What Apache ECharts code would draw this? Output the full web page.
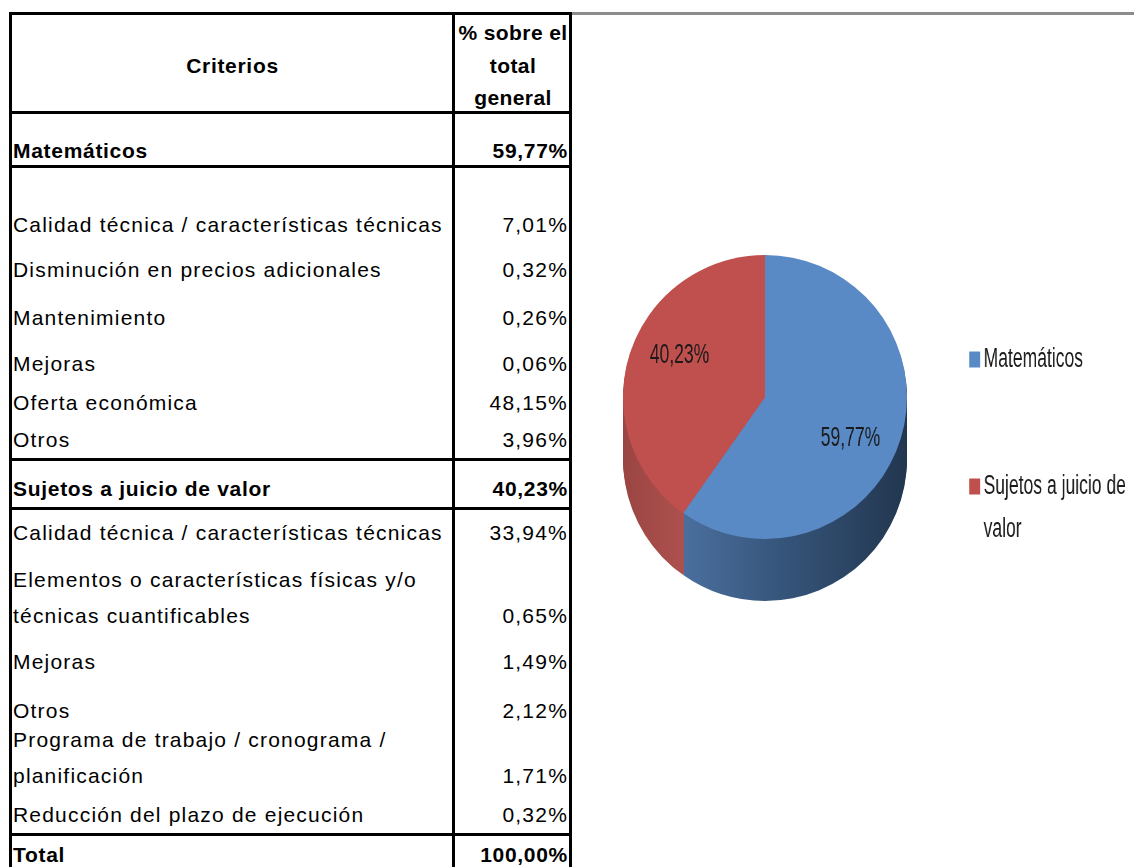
<!DOCTYPE html>
<html>
<head>
<meta charset="utf-8">
<script src="https://cdn.jsdelivr.net/npm/echarts@6/dist/echarts.min.js"></script>
<style>
  html, body { margin: 0; padding: 0; background: #fff; }
  body { width: 1134px; height: 867px; position: relative; overflow: hidden; }
  .t { position: absolute; font-family: "Liberation Sans", Arial, sans-serif; font-size: 21px; color: #000;
       white-space: pre; letter-spacing: 1.2px; line-height: 36px; }
  .b { font-weight: bold; letter-spacing: 0.7px; }
  .r { text-align: right; }
  .c { text-align: center; }
  .ln { position: absolute; background: #000; }
  #frame { position: absolute; left: 572px; top: 12px; width: 562px; height: 3px; background: #8c8c8c; }
  #chart { position: absolute; left: 572px; top: 15px; width: 562px; height: 852px; }
  /* capa de textos del grafico, comprimida en horizontal como en el original */
  #chartText { position: absolute; left: 572px; top: 15px; width: 900px; height: 852px;
               transform: scaleX(0.65); transform-origin: 193px 0; pointer-events: none; }
</style>
</head>
<body>
<div id="frame"></div>
<div id="chart"></div>
<div id="chartText"></div>
<script>
// datos
const grupos = ["Matemáticos", "Sujetos a juicio de valor"];
const pctGrupos = [59.77, 40.23];
const criteriosMat = [
  "Calidad técnica / características técnicas",
  "Disminución en precios adicionales",
  "Mantenimiento",
  "Mejoras",
  "Oferta económica",
  "Otros"
];
const pctMat = [7.01, 0.32, 0.26, 0.06, 48.15, 3.96];
const criteriosSuj = [
  "Calidad técnica / características técnicas",
  "Elementos o características físicas y/o\ntécnicas cuantificables",
  "Mejoras",
  "Otros",
  "Programa de trabajo / cronograma /\nplanificación",
  "Reducción del plazo de ejecución"
];
const pctSuj = [33.94, 0.65, 1.49, 2.12, 1.71, 0.32];
const pctTotal = 100.0;
const cabecera = ["Criterios", "% sobre el\ntotal\ngeneral"];

// layout de la tabla (centro vertical de la ultima linea de cada fila)
const yMat = 151;
const yMatRows = [225, 270, 318, 364, 403, 440];
const ySuj = 489;
const ySujRows = [533, 616, 662, 711, 776, 815];
const yTotal = 855;
const LH = 36;

const fmt = v => v.toFixed(2).replace(".", ",") + "%";

function txt(s, cls, left, width, yLast) {
  const d = document.createElement("div");
  d.className = "t " + cls;
  d.textContent = s;
  const n = s.split("\n").length;
  d.style.left = left + "px";
  d.style.width = width + "px";
  d.style.top = (yLast - LH / 2 - (n - 1) * LH) + "px";
  document.body.appendChild(d);
  return d;
}

function fila(label, valor, y, bold) {
  txt(label, bold ? "b" : "", 13, 440, y);
  txt(fmt(valor), (bold ? "b " : "") + "r", 455, 113, y);
}

function linea(x, y, w, h) {
  const d = document.createElement("div");
  d.className = "ln";
  d.style.left = x + "px";
  d.style.top = y + "px";
  d.style.width = w + "px";
  d.style.height = h + "px";
  document.body.appendChild(d);
}

// cabecera
const h1 = document.createElement("div");
h1.className = "t b c";
h1.textContent = cabecera[0];
h1.style.left = "12px"; h1.style.width = "441px"; h1.style.top = (66 - 18) + "px";
document.body.appendChild(h1);
const h2 = document.createElement("div");
h2.className = "t b c";
h2.textContent = cabecera[1];
h2.style.left = "456px"; h2.style.width = "114px"; h2.style.top = (33 - 16) + "px";
h2.style.lineHeight = "32.5px"; h2.style.letterSpacing = "0.4px";
document.body.appendChild(h2);

fila(grupos[0], pctGrupos[0], yMat, true);
criteriosMat.forEach((c, i) => fila(c, pctMat[i], yMatRows[i], false));
fila(grupos[1], pctGrupos[1], ySuj, true);
criteriosSuj.forEach((c, i) => fila(c, pctSuj[i], ySujRows[i], false));
fila("Total", pctTotal, yTotal, true);

// bordes
[12, 111, 165, 458, 507, 833].forEach(y => linea(9, y, 563, 3));
[9, 452, 569].forEach(x => linea(x, 12, 3, 855));

// grafico circular 3D
const CX = 193, CY = 382, R = 142, DEPTH = 62;
const SX = 0.65; // compresion horizontal de la capa de textos
const topColors = ["#5a8ac6", "#c0504d"];
const sideColors = [
  { type: "linear", global: true, x: 105, y: 0, x2: 336, y2: 0,
    colorStops: [{ offset: 0, color: "#4c71a0" }, { offset: 0.45, color: "#36557b" }, { offset: 1, color: "#22364f" }] },
  { type: "linear", global: true, x: 51, y: 0, x2: 113, y2: 0,
    colorStops: [{ offset: 0, color: "#9a4543" }, { offset: 1, color: "#ae514e" }] }
];
const font = '"Liberation Sans", Arial, sans-serif';

const base = {
  type: "pie",
  radius: R,
  startAngle: 90,
  clockwise: true,
  silent: true,
  animation: false,
  label: { show: false },
  labelLine: { show: false },
  emphasis: { disabled: true }
};

const series = [];
series.push(Object.assign({}, base, {
  name: "top",
  z: 5,
  center: [CX, CY],
  data: grupos.map((g, i) => ({ name: g, value: pctGrupos[i], itemStyle: { color: topColors[i], borderWidth: 0 } }))
}));
for (let k = DEPTH; k >= 1; k -= 2) {
  series.push(Object.assign({}, base, {
    z: 2,
    center: [CX, CY + k],
    data: grupos.map((g, i) => ({ name: g, value: pctGrupos[i], itemStyle: { color: sideColors[i], borderWidth: 0 } }))
  }));
}

const chart = echarts.init(document.getElementById("chart"));
chart.setOption({ backgroundColor: "#fff", series: series });

// etiquetas y leyenda
const legendBase = {
  orient: "vertical",
  left: CX + (966 - 572 - CX) / SX,
  itemWidth: 11 / SX,
  selectedMode: false,
  symbolKeepAspect: false,
  textStyle: { fontFamily: font, fontSize: 27, color: "#1a1a1a", lineHeight: 43 }
};
const chartText = echarts.init(document.getElementById("chartText"));
chartText.setOption({
  backgroundColor: "transparent",
  legend: [
    Object.assign({}, legendBase, {
      top: 318,
      icon: "rect",
      itemHeight: 16,
      data: [{ name: grupos[0], itemStyle: { color: topColors[0] } }]
    }),
    Object.assign({}, legendBase, {
      top: 445,
      // cuadro arriba, alineado con la primera linea del texto
      icon: "path://M0,0L17,0L17,16L0,16Z M0,58.9L0.05,58.9L0.05,59L0,59Z",
      itemHeight: 59,
      textStyle: Object.assign({}, legendBase.textStyle, { width: 232, overflow: "break" }),
      data: [{ name: grupos[1], itemStyle: { color: topColors[1] } }]
    })
  ],
  series: [Object.assign({}, base, {
    name: "etiquetas",
    center: [CX, CY],
    radius: 270,
    label: {
      show: true,
      position: "inside",
      formatter: p => fmt(p.value),
      fontFamily: font,
      fontSize: 27,
      color: "#1a1a1a"
    },
    data: grupos.map((g, i) => ({ name: g, value: pctGrupos[i], itemStyle: { color: "rgba(0,0,0,0)", borderWidth: 0 } }))
  })]
});
</script>
</body>
</html>
